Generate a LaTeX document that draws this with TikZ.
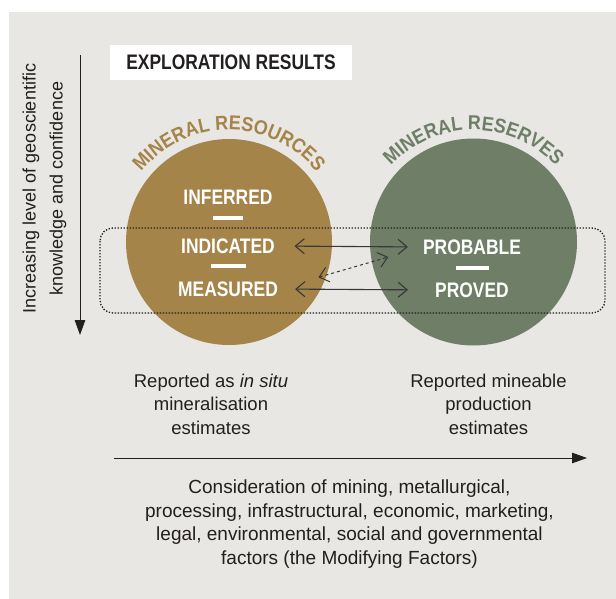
\documentclass[tikz,border=0pt]{standalone}
\usepackage{fontspec}
\setmainfont{Liberation Sans}
\newfontfamily\labelfont[FakeStretch=0.83]{Liberation Sans}
\newfontfamily\arcfont[FakeStretch=0.90]{Liberation Sans}
\usetikzlibrary{arrows.meta,decorations.text}
\definecolor{panel}{RGB}{232,231,227}
\definecolor{resgold}{RGB}{164,132,72}
\definecolor{resgreen}{RGB}{110,126,103}
\definecolor{ink}{RGB}{35,31,32}
\definecolor{wire}{RGB}{55,55,55}
\tikzset{
  cat/.style={font=\labelfont\bfseries\fontsize{21}{21}\selectfont, text=white, inner sep=0pt},
  sepbar/.style={fill=white, draw=none, minimum height=4pt, inner sep=0pt},
  body/.style={font=\fontsize{18.5}{23.5}\selectfont, text=ink, align=center},
  link/.style={draw=wire, line width=1.1pt, {Straight Barb[length=9pt,width=15pt]}-{Straight Barb[length=9pt,width=15pt]}},
  axis/.style={draw=ink, line width=1pt, -{Triangle[length=15pt,width=10.5pt]}},
}
\begin{document}
\begin{tikzpicture}[x=1pt,y=1pt]
\useasboundingbox (0,0) rectangle (616,-599);
% panel
\fill[panel] (9,-12) rectangle (616,-599);

% heading box
\node[fill=white, minimum width=242pt, minimum height=35pt, inner sep=0pt,
      font=\labelfont\bfseries\fontsize{21}{21}\selectfont, text=ink] (head) at (231,-62.5) {EXPLORATION RESULTS};

% the two circles
\node[circle, fill=resgold, minimum size=206pt, inner sep=0pt] (res) at (229,-242) {};
\node[circle, fill=resgreen, minimum size=207pt, inner sep=0pt] (rsv) at (473.5,-242) {};

% curved titles
\path[decorate, decoration={text along path, text align=center,
  text={|\arcfont\bfseries\fontsize{20}{20}\selectfont\color{resgold}|MINERAL RESOURCES}}]
  (229,-242) ++(170:112) arc[start angle=170, end angle=10, radius=112];
\path[decorate, decoration={text along path, text align=center,
  text={|\arcfont\bfseries\fontsize{20}{20}\selectfont\color{resgreen}|MINERAL RESERVES}}]
  (473.5,-242) ++(170:112) arc[start angle=170, end angle=10, radius=112];

% categories
\node[cat] (inf) at (228,-197) {INFERRED};
\node[sepbar, minimum width=30pt] (bar1) at (228,-218) {};
\node[cat] (ind) at (228,-246) {INDICATED};
\node[sepbar, minimum width=35pt] (bar2) at (228,-266) {};
\node[cat] (mea) at (228,-289) {MEASURED};

\node[cat] (prb) at (472,-247) {PROBABLE};
\node[sepbar, minimum width=33pt] (bar3) at (472,-268) {};
\node[cat] (prv) at (472,-290) {PROVED};

% dotted frame
\draw[ink, line width=1.3pt, dash pattern=on 1.3pt off 1.7pt, rounded corners=13pt]
  (100,-228) rectangle (605,-313);

% conversion links
\draw[link, shorten <=19.5pt, shorten >=15pt] (ind.east) -- (prb.west);
\draw[link, shorten <=17pt, shorten >=27pt] (mea.east) -- (prv.west);
\draw[link, dashed, line width=1pt, shorten <=42pt, shorten >=36pt] (mea.east) -- (prb.west);

% axes
\coordinate (vtop) at (80,-55);
\coordinate (vbot) at (80,-335);
\draw[axis] (vtop) -- (vbot);
\node[rotate=90, align=center, font=\fontsize{18}{27}\selectfont, text=ink] (side) at (44.5,-188.5)
  {Increasing level of geoscientific\\knowledge and confidence};

\coordinate (hl) at (114,-458);
\coordinate (hr) at (587,-458);
\draw[axis] (hl) -- (hr);

% notes
\node[body] (insitu) at (211,-404) {Reported as \textit{in situ}\\mineralisation\\estimates};
\node[body] (mine) at (488.5,-404) {Reported mineable\\production\\estimates};
\node[body, font=\fontsize{19}{23.7}\selectfont] (mod) at (349.5,-524)
  {Consideration of mining, metallurgical,\\processing, infrastructural, economic, marketing,\\legal, environmental, social and governmental\\factors (the Modifying Factors)};
\end{tikzpicture}
\end{document}
